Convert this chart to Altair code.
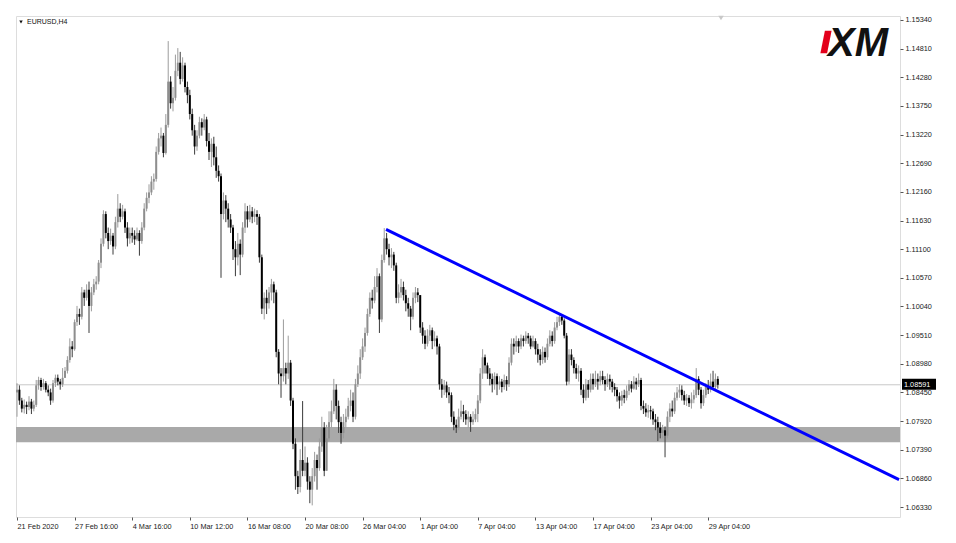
import altair as alt
import pandas as pd

# ---------------- data (prices in pips: 10859 -> 1.0859) ----------------
x_tick_index = [0, 24, 48, 72, 96, 120, 144, 168, 192, 216, 240, 264, 288]
x_tick_labels = ["21 Feb 2020", "27 Feb 16:00", "4 Mar 16:00", "10 Mar 12:00", "16 Mar 08:00",
                 "20 Mar 08:00", "26 Mar 04:00", "1 Apr 04:00", "7 Apr 04:00", "13 Apr 04:00",
                 "17 Apr 04:00", "23 Apr 04:00", "29 Apr 04:00"]
y_tick_values = [1.06330, 1.06860, 1.07390, 1.07920, 1.08450, 1.08980, 1.09510, 1.10040, 1.10570,
                 1.11100, 1.11630, 1.12160, 1.12690, 1.13220, 1.13750, 1.14280, 1.14810, 1.15340]

first_open = 10845
closes = [
    10850, 10830, 10815, 10822, 10818, 10828, 10815, 10822, 10858, 10868, 10855, 10862, 10850, 10845, 10830, 10862, 10872, 10865, 10860, 10872, 10885, 10905, 10930, 10925,
    10975, 10990, 10985, 11030, 11020, 11035, 11005, 11030, 11045, 11050, 11085, 11120, 11175, 11140, 11125, 11135, 11115, 11160, 11185, 11170, 11180, 11150, 11130, 11140,
    11135, 11128, 11140, 11125, 11150, 11185, 11205, 11215, 11235, 11240, 11290, 11315, 11320, 11288, 11340, 11420, 11380, 11390, 11440, 11455, 11425, 11450, 11410, 11395,
    11360, 11330, 11300, 11320, 11345, 11335, 11350, 11310, 11290, 11305, 11280, 11255, 11245, 11175, 11200, 11185, 11165, 11150, 11110, 11095, 11120, 11100, 11150, 11180,
    11165, 11180, 11170, 11175, 11170, 11095, 11000, 11020, 11010, 11030, 11045, 11030, 10920, 10880, 10875, 10890, 10880, 10900, 10830, 10750, 10690, 10670, 10720, 10700,
    10715, 10680, 10665, 10690, 10720, 10705, 10745, 10780, 10700, 10760, 10790, 10810, 10850, 10820, 10790, 10770, 10790, 10800, 10820, 10830, 10800, 10860, 10880, 10910,
    10930, 10955, 10990, 11020, 11015, 11040, 11060, 10980, 11090, 11130, 11110, 11095, 11100, 11080, 11020, 11030, 11040, 11025, 11010, 11000, 10985, 11020, 11030, 11025,
    10965, 10950, 10935, 10950, 10960, 10940, 10945, 10930, 10860, 10850, 10858, 10845, 10840, 10800, 10785, 10780, 10800, 10810, 10805, 10795, 10800, 10790, 10795, 10805,
    10830, 10880, 10910, 10895, 10880, 10870, 10860, 10875, 10860, 10865, 10855, 10868, 10860, 10900, 10935, 10930, 10940, 10930, 10945, 10940, 10950, 10945, 10930, 10940,
    10925, 10915, 10905, 10920, 10910, 10935, 10950, 10940, 10965, 10975, 10985, 10978, 10950, 10865, 10915, 10905, 10890, 10880, 10885, 10850, 10835, 10860, 10850, 10870,
    10860, 10870, 10865, 10875, 10868, 10860, 10870, 10865, 10855, 10850, 10838, 10830, 10840, 10835, 10848, 10860, 10852, 10865, 10860, 10868, 10820, 10815, 10808, 10812,
    10810, 10795, 10790, 10780, 10770, 10775, 10765, 10800, 10815, 10810, 10835, 10845, 10850, 10840, 10830, 10835, 10825, 10832, 10840, 10870, 10850, 10825, 10840, 10855,
    10850, 10865, 10855, 10870, 10859.1,
]
highs = [
    10862, 10858, 10835, 10832, 10828, 10838, 10833, 10830, 10868, 10874, 10872, 10870, 10866, 10858, 10852, 10868, 10878, 10878, 10870, 10890, 10892, 10912, 10945, 10940,
    10980, 11005, 11000, 11040, 11035, 11045, 11050, 11040, 11055, 11060, 11090, 11130, 11182, 11180, 11150, 11148, 11140, 11170, 11212, 11195, 11192, 11185, 11160, 11150,
    11150, 11145, 11150, 11145, 11160, 11195, 11215, 11230, 11245, 11250, 11300, 11325, 11335, 11325, 11360, 11495, 11430, 11410, 11470, 11482, 11475, 11465, 11455, 11420,
    11405, 11370, 11340, 11330, 11355, 11352, 11360, 11355, 11325, 11315, 11318, 11300, 11265, 11250, 11215, 11210, 11195, 11175, 11155, 11125, 11140, 11128, 11160, 11195,
    11190, 11192, 11188, 11185, 11182, 11175, 11100, 11030, 11035, 11040, 11055, 11050, 11035, 10925, 10890, 10980, 10900, 10950, 10905, 10835, 10760, 10700, 10740, 10829,
    10745, 10725, 10690, 10705, 10735, 10730, 10760, 10800, 10790, 10785, 10810, 10830, 10870, 10860, 10830, 10800, 10805, 10815, 10835, 10850, 10845, 10870, 10895, 10925,
    10945, 10965, 11000, 11030, 11035, 11060, 11075, 11065, 11100, 11149, 11140, 11120, 11112, 11105, 11085, 11045, 11055, 11050, 11035, 11020, 11005, 11030, 11040, 11038,
    11025, 10975, 10960, 10962, 10970, 10965, 10958, 10950, 10935, 10870, 10868, 10865, 10855, 10845, 10810, 10795, 10815, 10830, 10822, 10812, 10810, 10805, 10810, 10815,
    10840, 10890, 10925, 10915, 10900, 10890, 10880, 10882, 10880, 10875, 10870, 10878, 10875, 10910, 10945, 10945, 10950, 10945, 10952, 10950, 10958, 10955, 10950, 10950,
    10945, 10935, 10925, 10930, 10928, 10945, 10960, 10958, 10975, 10985, 10992, 10990, 10982, 10955, 10925, 10925, 10910, 10898, 10895, 10890, 10860, 10870, 10868, 10880,
    10880, 10885, 10880, 10885, 10885, 10875, 10880, 10878, 10870, 10862, 10855, 10845, 10848, 10850, 10858, 10868, 10866, 10875, 10872, 10880, 10872, 10830, 10825, 10822,
    10820, 10815, 10805, 10800, 10790, 10785, 10782, 10810, 10825, 10830, 10845, 10855, 10860, 10858, 10848, 10842, 10840, 10845, 10850, 10890, 10875, 10855, 10850, 10862,
    10868, 10880, 10885, 10880, 10875,
]
lows = [
    10800, 10822, 10808, 10806, 10805, 10812, 10805, 10810, 10818, 10850, 10848, 10850, 10845, 10838, 10822, 10826, 10855, 10858, 10850, 10855, 10872, 10880, 10900, 10910,
    10922, 10968, 10970, 10980, 11005, 11015, 10955, 10995, 11025, 11035, 11045, 11075, 11115, 11130, 11110, 11118, 11100, 11110, 11150, 11160, 11165, 11140, 11115, 11120,
    11122, 11118, 11125, 11098, 11120, 11145, 11180, 11195, 11210, 11220, 11235, 11285, 11300, 11280, 11285, 11335, 11370, 11365, 11385, 11430, 11415, 11420, 11400, 11380,
    11350, 11320, 11285, 11292, 11315, 11320, 11330, 11300, 11275, 11262, 11265, 11242, 11235, 11057, 11165, 11160, 11150, 11140, 11090, 11060, 11080, 11062, 11095, 11140,
    11150, 11160, 11158, 11160, 11155, 11085, 10990, 10980, 10990, 11000, 11015, 11010, 10910, 10860, 10835, 10865, 10860, 10870, 10820, 10740, 10665, 10657, 10660, 10690,
    10690, 10665, 10640, 10636, 10680, 10665, 10700, 10735, 10690, 10700, 10755, 10780, 10805, 10795, 10770, 10750, 10760, 10780, 10795, 10810, 10790, 10795, 10855, 10870,
    10905, 10920, 10950, 10985, 11000, 11010, 11030, 10955, 10975, 11085, 11100, 11080, 11075, 11070, 11010, 11010, 11020, 11015, 10995, 10985, 10960, 10980, 11010, 11012,
    10955, 10935, 10925, 10930, 10940, 10925, 10930, 10915, 10850, 10835, 10840, 10835, 10825, 10790, 10775, 10770, 10775, 10795, 10790, 10785, 10780, 10772, 10785, 10790,
    10790, 10825, 10870, 10880, 10870, 10858, 10845, 10850, 10840, 10850, 10845, 10850, 10848, 10855, 10895, 10915, 10920, 10918, 10925, 10930, 10935, 10935, 10925, 10928,
    10915, 10900, 10895, 10898, 10900, 10905, 10930, 10930, 10935, 10960, 10968, 10970, 10945, 10858, 10860, 10895, 10880, 10870, 10865, 10840, 10825, 10830, 10835, 10845,
    10850, 10855, 10850, 10858, 10860, 10848, 10855, 10850, 10845, 10838, 10828, 10815, 10820, 10825, 10830, 10840, 10845, 10850, 10850, 10855, 10812, 10805, 10800, 10798,
    10795, 10785, 10775, 10755, 10760, 10760, 10725, 10760, 10790, 10800, 10805, 10830, 10835, 10830, 10822, 10820, 10818, 10815, 10825, 10835, 10840, 10815, 10820, 10835,
    10842, 10845, 10850, 10850, 10852,
]

current_price = 1.08591
zone_top, zone_bottom = 1.0781, 1.0753
trend_bar = [153.75, 367.5]
trend_price = [1.11465, 1.06835]

# ---------------- build table ----------------
n = min(len(closes), len(highs), len(lows))
c = [v / 10000 for v in closes[:n]]
o = [first_open / 10000] + c[:-1]
h = [max(a, b, d / 10000) for a, b, d in zip(o, c, highs[:n])]
l = [min(a, b, d / 10000) for a, b, d in zip(o, c, lows[:n])]
df = pd.DataFrame({"i": list(range(n)), "open": o, "close": c, "high": h, "low": l})

W, H = 884, 501
FONT = "Liberation Sans"
FS = 7.3
xs = alt.Scale(domain=[-0.42, 367.9], nice=False, zero=False, padding=0)
ys = alt.Scale(domain=[1.06145, 1.15414], nice=False, zero=False, padding=0)
label_expr = "[" + ",".join("'%s'" % s for s in x_tick_labels) + "][round(datum.value/24)]"
xaxis = alt.Axis(values=x_tick_index, labelExpr=label_expr, orient="bottom", labelAlign="left",
                 labelBaseline="top", labelPadding=2, tickSize=3, domain=False, grid=False,
                 title=None, labelOverlap=False, labelFlush=False, labelFont=FONT,
                 labelFontSize=FS, labelColor="#222", tickColor="#555", labelBound=False)
yaxis = alt.Axis(values=y_tick_values, format=".5f", orient="right", tickSize=3, labelPadding=2,
                 domain=False, grid=False, title=None, labelFont=FONT, labelFontSize=FS,
                 labelColor="#222", tickColor="#555", labelOverlap=False)


def X(f):
    return alt.X(f, type="quantitative", scale=xs, axis=xaxis)


def Y(f):
    return alt.Y(f, type="quantitative", scale=ys, axis=yaxis)


bull = "datum.close >= datum.open"

zone = alt.Chart(pd.DataFrame({"top": [zone_top], "bot": [zone_bottom]})).mark_rect(
    color="#a9a9a9").encode(y=Y("top"), y2="bot", x=alt.value(0), x2=alt.value(W))

pline = alt.Chart(pd.DataFrame({"p": [current_price]})).mark_rule(
    color="#c8c8c8", strokeWidth=1).encode(y=Y("p"), x=alt.value(0), x2=alt.value(W))

wicks = alt.Chart(df).mark_rule(strokeWidth=1).encode(
    x=X("i"), y=Y("low"), y2="high",
    color=alt.condition(bull, alt.value("#9c9c9c"), alt.value("#3a3a3a")))

bodies = alt.Chart(df).mark_bar(size=2).encode(
    x=X("i"), y=Y("open"), y2="close",
    color=alt.condition(bull, alt.value("#8e8e8e"), alt.value("#000000")))

trend = alt.Chart(pd.DataFrame({"i": trend_bar, "p": trend_price})).mark_line(
    color="#0000ff", strokeWidth=3, clip=True).encode(x=X("i"), y=Y("p"))

box = alt.Chart(pd.DataFrame({"p": [current_price]})).mark_rect(
    color="#000000", yOffset=-6, y2Offset=5).encode(
    y=Y("p"), y2="p", x=alt.value(W + 2), x2=alt.value(W + 36))
boxtext = alt.Chart(pd.DataFrame({"p": [current_price]})).mark_text(
    color="#ffffff", align="left", baseline="middle", font=FONT, fontSize=FS).encode(
    y=Y("p"), x=alt.value(W + 4), text=alt.Text("p:Q", format=".5f"))

title_txt = alt.Chart(pd.DataFrame({"t": ["EURUSD,H4"]})).mark_text(
    align="left", baseline="middle", font=FONT, fontSize=7, color="#111").encode(
    text="t:N", x=alt.value(11), y=alt.value(6))
title_tri = alt.Chart(pd.DataFrame({"t": [1]})).mark_point(
    shape="triangle-down", filled=True, color="#111", size=12, opacity=1).encode(
    x=alt.value(5), y=alt.value(6))
shift_tri = alt.Chart(pd.DataFrame({"t": [1]})).mark_point(
    shape="triangle-down", filled=True, color="#c8c8c8", size=30, opacity=1).encode(
    x=alt.value(705), y=alt.value(2))

logo = alt.Chart(pd.DataFrame({"t": ["XM"]})).mark_text(
    align="right", baseline="alphabetic", font=FONT, fontSize=40, fontWeight="bold",
    fontStyle="italic", color="#111").encode(text="t:N", x=alt.value(W - 12), y=alt.value(40))
slash = alt.Chart(pd.DataFrame({"t": [1]})).mark_point(
    shape="M -0.1 -1 L 0.5 -1 L 0.1 1 L -0.5 1 Z", filled=True, color="#e3001b",
    size=500, opacity=1).encode(x=alt.value(W - 74), y=alt.value(26))

chart = alt.layer(zone, pline, wicks, bodies, trend, box, boxtext, title_tri, title_txt,
                  shift_tri, logo, slash).properties(
    width=W, height=H, padding={"left": 7, "top": 7, "right": 5, "bottom": 5}
).configure_view(stroke="#666666", strokeWidth=1).configure(background="white")

chart.save("out.html", embed_options={"renderer": "svg", "actions": False})
